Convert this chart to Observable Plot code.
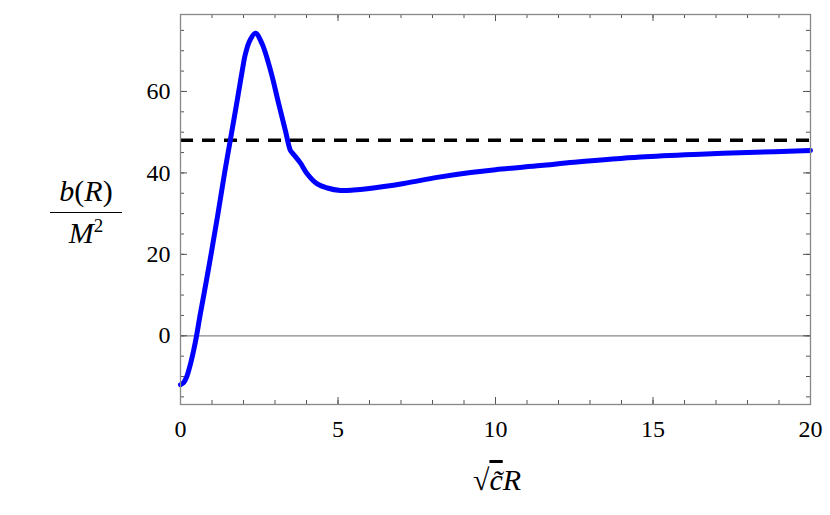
<!DOCTYPE html>
<html>
<head>
<meta charset="utf-8">
<script src="https://cdn.jsdelivr.net/npm/d3@7"></script>
<script src="https://cdn.jsdelivr.net/npm/@observablehq/plot@0.6"></script>
<style>
  body { margin: 0; background: #fff; }
  #wrap { position: relative; width: 830px; height: 515px; font-family: "Liberation Serif", "Times New Roman", "DejaVu Serif", serif; }
  .ylab { position: absolute; left: 50px; top: 176px; width: 72px; text-align: center; font-size: 30px; line-height: 1; }
  .ylab .num { padding-bottom: 6px; border-bottom: 1.5px solid #000; }
  .ylab .den { padding-top: 3px; }
  .xlab { position: absolute; left: 400px; width: 194px; top: 463px; text-align: center; font-size: 30px; }
  .ov { text-decoration: overline; }
</style>
</head>
<body>
<div id="wrap">
  <div id="chart"></div>
  <div class="ylab"><div class="num"><i>b</i>(<i>R</i>)</div><div class="den"><i>M</i><sup style="font-size:19px">2</sup></div></div>
  <div class="xlab">√<span class="ov"><i>c̃</i></span><i>R</i></div>
</div>
<script>
// Curve: x = sqrt(c~) R, y = b(R)/M^2
const xs = [0, 0.1, 0.2, 0.33, 0.42, 0.51, 0.62, 0.74, 0.97, 1.19, 1.4, 1.58, 1.78, 1.96, 2.06, 2.2, 2.38, 2.59, 2.86, 3.12, 3.33, 3.49, 3.56, 3.65, 3.81, 4.02, 4.34, 4.66, 5.08, 5.5, 5.93, 7.09, 8.15, 9.21, 10, 11.43, 12.5, 14.6, 16.5, 18, 20];
const ys = [-12, -11.5, -10, -6.5, -3.5, 0, 5, 10, 20, 30, 40, 48, 56.9, 65.1, 69.2, 72.5, 74.3, 71.7, 65.1, 56.9, 50.4, 45.5, 44.8, 44.0, 42.4, 39.8, 37.3, 36.3, 35.7, 35.8, 36.1, 37.4, 38.9, 40.1, 40.8, 41.8, 42.6, 43.9, 44.6, 45.0, 45.5];
const asymptote = 48;
const xMajor = [0, 5, 10, 15, 20];
const xMinor = d3.range(0, 21, 1);
const yMajor = [0, 20, 40, 60];
const yMinor = [-15, -10, -5, 0, 5, 10, 15, 20, 25, 30, 35, 40, 45, 50, 55, 60, 65, 70, 75];

const curve = xs.map((x, i) => ({x, y: ys[i]}));
const frameW = 630, frameH = 390;
const tickCol = "#555";

const plot = Plot.plot({
  width: 830,
  height: 515,
  marginLeft: 180,
  marginRight: 20,
  marginTop: 14,
  marginBottom: 111,
  style: {fontFamily: "'Liberation Serif', 'Times New Roman', 'DejaVu Serif', serif", fontSize: "24px", background: "#fff"},
  x: {domain: [0, 20]},
  y: {domain: [-16.87, 78.9]},
  marks: [
    Plot.ruleY([0], {stroke: "#888", strokeWidth: 1.2}),
    Plot.tickX(xMinor, {x: d => d, insetTop: frameH - 4, stroke: tickCol}),
    Plot.tickX(xMinor, {x: d => d, insetBottom: frameH - 4, stroke: tickCol}),
    Plot.tickX(xMajor, {x: d => d, insetTop: frameH - 7, stroke: tickCol}),
    Plot.tickX(xMajor, {x: d => d, insetBottom: frameH - 7, stroke: tickCol}),
    Plot.tickY(yMinor, {y: d => d, insetRight: frameW - 4, stroke: tickCol}),
    Plot.tickY(yMinor, {y: d => d, insetLeft: frameW - 4, stroke: tickCol}),
    Plot.tickY(yMajor, {y: d => d, insetRight: frameW - 7, stroke: tickCol}),
    Plot.tickY(yMajor, {y: d => d, insetLeft: frameW - 7, stroke: tickCol}),
    Plot.ruleY([asymptote], {stroke: "#000", strokeWidth: 3.5, strokeDasharray: "13,9"}),
    Plot.line(curve, {x: "x", y: "y", stroke: "#0000ff", strokeWidth: 5, curve: "catmull-rom"}),
    Plot.frame({stroke: "#888", strokeWidth: 1.3}),
    Plot.axisX(xMajor, {tickSize: 0, tickPadding: 15, label: null, fontSize: 24}),
    Plot.axisY(yMajor, {tickSize: 0, tickPadding: 10, label: null, fontSize: 24})
  ]
});
document.getElementById("chart").appendChild(plot);
</script>
</body>
</html>
